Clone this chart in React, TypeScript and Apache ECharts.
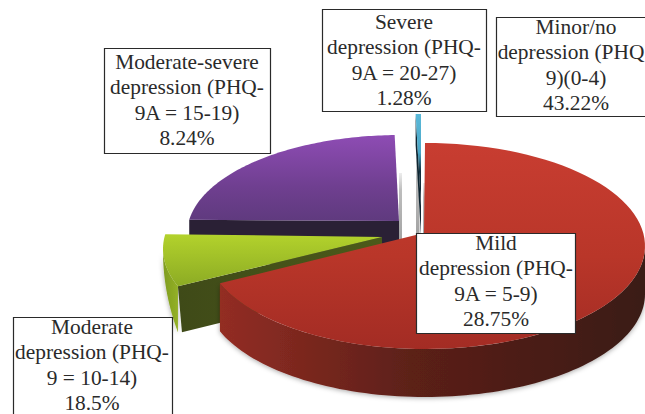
import React, { useEffect, useRef } from "react";
import * as echarts from "echarts";

// Slices in clockwise order from 12 o'clock, shares as read from the drawn wedges.
const sliceNames = ["Minor/no + Mild", "Green wedge", "Purple wedge", "Severe"];
const sliceShares = [69.1, 8.2, 22.3, 0.4];

const minorLabel = ["Minor/no", "depression (PHQ", "9)(0-4)", "43.22%"];
const mildLabel = ["Mild", "depression (PHQ-", "9A = 5-9)", "28.75%"];
const moderateLabel = ["Moderate", "depression (PHQ-", "9 = 10-14)", "18.5%"];
const modSevereLabel = ["Moderate-severe", "depression (PHQ-", "9A = 15-19)", "8.24%"];
const severeLabel = ["Severe", "depression (PHQ-", "9A = 20-27)", "1.28%"];

const grad = (x2: number, y2: number, stops: [number, string][]) =>
  new echarts.graphic.LinearGradient(0, 0, x2, y2, stops.map(([offset, color]) => ({ offset, color })));

const looks: any[] = [
  {
    apex: [424, 233], center: [425, 246], rx: 220, ry: 103, depth: 48, taper: false,
    top: grad(0, 1, [[0, "#c83d31"], [0.55, "#b93629"], [1, "#a32c24"]]),
    arc: grad(1, 0, [[0, "#932d23"], [0.45, "#5c2019"], [1, "#3a1a14"]]),
    cut: "#5c2019",
    shade: { x: -1, w: 2, from: 183, to: 240 },
  },
  {
    apex: [382, 237], center: [383, 249], rx: 220, ry: 103, depth: 46, taper: true,
    top: grad(0, 1, [[0, "#b3d22c"], [1, "#8cab24"]]),
    arc: grad(1, 0, [[0, "#7f9c20"], [1, "#93b026"]]),
    cut: grad(1, 0, [[0, "#3f4a18"], [1, "#4c5a1a"]]),
  },
  {
    apex: [399, 221], center: [400, 234], rx: 213, ry: 99, depth: 44, taper: false,
    top: grad(0, 1, [[0, "#8e4cb4"], [0.6, "#6f3f90"], [1, "#5f3a7e"]]),
    arc: "#2a2035",
    cut: "#2a2035",
    shade: { x: 0, w: 3, from: 173, to: 241 },
  },
  {
    apex: [421, 206], center: [421, 208], rx: 215, ry: 94, depth: 30, taper: false,
    top: grad(0, 1, [[0, "#5bb9d9"], [0.42, "#4aa6c6"], [0.62, "#12303f"], [1, "#0e2531"]]),
    arc: "#0e2531",
    cut: "#0e2531",
    shade: { x: -5, w: 3.5, from: 157, to: 236 },
  },
];

const boxes = [
  { lines: minorLabel, x: 496, y: 17, w: 170, h: 99, tx: 576, ty: 14, lineShift: { 1: -5 } as Record<number, number> },
  { lines: severeLabel, x: 322, y: 9, w: 164, h: 102, tx: 404, ty: 9 },
  { lines: modSevereLabel, x: 104, y: 48, w: 166, h: 105, tx: 187, ty: 49 },
  { lines: mildLabel, x: 416, y: 233, w: 159, h: 100, tx: 496, ty: 230 },
  { lines: moderateLabel, x: 13, y: 317, w: 159, h: 110, tx: 92, ty: 314 },
];

const LINE = 25.5;

function renderSlice(_params: any, api: any) {
  const i = api.value(0) as number;
  const before = sliceShares.slice(0, i).reduce((a, b) => a + b, 0);
  const start = (before / 100) * Math.PI * 2;
  const end = ((before + (api.value(1) as number)) / 100) * Math.PI * 2;
  const k = looks[i];
  const at = (a: number, drop = 0): number[] => [
    k.center[0] + k.rx * Math.sin(a),
    k.center[1] - k.ry * Math.cos(a) + drop,
  ];
  const steps = 90;
  const arc: number[][] = [];
  for (let s = 0; s <= steps; s++) arc.push(at(start + ((end - start) * s) / steps));

  const children: any[] = [];
  if (k.shade) {
    const s = k.shade;
    children.push({
      type: "rect",
      shape: { x: k.apex[0] + s.x, y: s.from, width: s.w, height: s.to - s.from },
      style: {
        fill: grad(0, 1, [[0, "rgba(110,110,110,0.12)"], [0.25, "rgba(110,110,110,0.45)"], [1, "rgba(100,100,100,0.6)"]]),
      },
    });
  }
  // outer rim: only the part of the arc facing the viewer
  const frontFrom = Math.max(start, Math.PI / 2);
  const frontTo = Math.min(end, (Math.PI * 3) / 2 + 0.02);
  if (frontTo > frontFrom) {
    const rimTop: number[][] = [];
    const rimBottom: number[][] = [];
    for (let s = 0; s <= steps; s++) {
      const t = s / steps;
      const a = frontFrom + (frontTo - frontFrom) * t;
      rimTop.push(at(a));
      rimBottom.unshift(at(a, k.taper ? k.depth * (1 - t) : k.depth));
    }
    children.push({
      type: "polygon",
      shape: { points: [...rimTop, ...rimBottom] },
      style: { fill: k.arc, shadowBlur: 5, shadowColor: "rgba(0,0,0,0.35)", shadowOffsetY: 1 },
    });
  }
  // cut face at the wedge's leading edge, facing the viewer for the left half
  if (start > Math.PI) {
    const p = at(start);
    children.push({
      type: "polygon",
      shape: {
        points: [k.apex, p, [p[0] + (k.taper ? 4 : 0), p[1] + k.depth], [k.apex[0], k.apex[1] + k.depth]],
      },
      style: { fill: k.cut },
    });
  }
  children.push({
    type: "polygon",
    shape: { points: [k.apex, ...arc] },
    style: { fill: k.top },
  });
  return { type: "group", children };
}

export default function App() {
  const ref = useRef<HTMLDivElement>(null);
  useEffect(() => {
    const chart = echarts.init(ref.current!, null, { renderer: "svg" });
    const graphic: any[] = [];
    boxes.forEach((b: any) => {
      graphic.push({
        type: "rect",
        z: 10,
        shape: { x: b.x + 0.5, y: b.y + 0.5, width: b.w, height: b.h },
        style: { fill: "#ffffff", stroke: "#2a2a2a", lineWidth: 1.2 },
      });
      b.lines.forEach((line: string, n: number) => {
        graphic.push({
          type: "text",
          z: 11,
          x: b.tx + (b.lineShift?.[n] ?? 0),
          y: b.ty + n * LINE,
          style: {
            text: line,
            fill: "#2a2a2a",
            font: '21.4px "Liberation Serif"',
            align: "center",
            verticalAlign: "top",
            lineHeight: LINE,
          },
        });
      });
    });
    chart.setOption({
      animation: false,
      backgroundColor: "#ffffff",
      series: [
        {
          type: "custom",
          coordinateSystem: "none",
          silent: true,
          clip: false,
          renderItem: renderSlice,
          data: sliceNames.map((name, i) => ({ name, value: [i, sliceShares[i]] })).reverse(),
        },
      ],
      graphic,
    });
    return () => chart.dispose();
  }, []);
  return (
    <div
      ref={ref}
      style={{ position: "absolute", left: 0, top: 0, width: 645, height: 414, background: "#fff" }}
    />
  );
}
